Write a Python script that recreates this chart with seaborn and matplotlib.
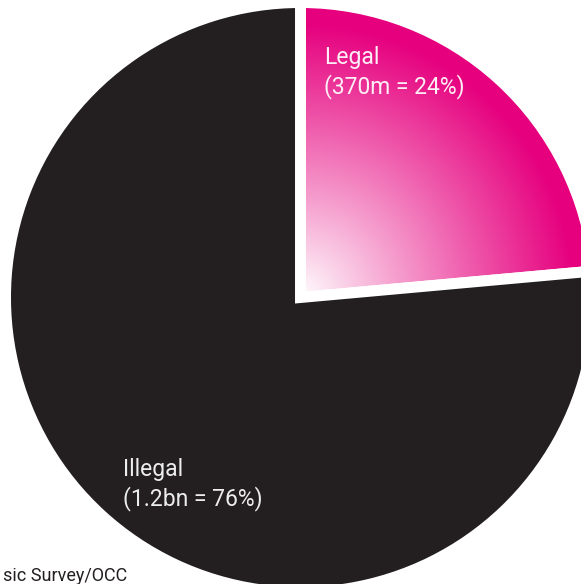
import numpy as np
import matplotlib
matplotlib.use("Agg")
import matplotlib.pyplot as plt
import seaborn as sns

# ---- data ----
categories = ["Legal", "Illegal"]
values = [370, 1200]            # millions
value_labels = ["(370m = 24%)", "(1.2bn = 76%)"]
source_text = "sic Survey/OCC"

# ---- style ----
sns.set_theme(style="white")
plt.rcParams["font.family"] = ["Roboto", "DejaVu Sans"]

MAGENTA = np.array([230, 0, 126]) / 255.0
DARK = "#231F20"

W, H = 581, 584
fig = plt.figure(figsize=(W / 100, H / 100), dpi=100)
ax = fig.add_axes([0, 0, 1, 1])

cx, cy, R = 300.5, 297.5, 295.0   # layout in pixel units
wedges, _ = ax.pie(values, radius=R, startangle=90, counterclock=False,
                   colors=["none", DARK],
                   wedgeprops=dict(edgecolor="white", linewidth=7.9, joinstyle="miter"))
for w in wedges:
    w.set_zorder(3)

x0, x1 = -cx, W - cx
y0, y1 = cy - H, cy
ax.set_xlim(x0, x1)
ax.set_ylim(y0, y1)
ax.set_aspect("equal")
ax.axis("off")

# radial gradient for the legal wedge
xs = np.linspace(x0, x1, W)
ys = np.linspace(y1, y0, H)
XX, YY = np.meshgrid(xs, ys)
rr = np.sqrt(XX ** 2 + YY ** 2) / R
t = np.clip(rr / 0.93, 0, 1) ** 0.95
img = (1 - t)[..., None] * np.ones(3) + t[..., None] * MAGENTA
im = ax.imshow(img, extent=(x0, x1, y0, y1), origin="upper", zorder=1,
               interpolation="bilinear")
im.set_clip_path(wedges[0])

# labels
fs = 16.5
kw = dict(fontsize=fs, ha="left", va="baseline", zorder=5, fontweight="normal")
ax.text(324.3 - cx, cy - 64, categories[0], color="#FDEEF5", **kw)
ax.text(324.3 - cx, cy - 93, value_labels[0], color="#FDEEF5", **kw)
ax.text(122.7 - cx, cy - 476, categories[1], color="#EDEDED", **kw)
ax.text(122.7 - cx, cy - 505.5, value_labels[1], color="#EDEDED", **kw)

fig.text(3 / W, 1 - 581 / H, source_text, color=DARK, fontsize=13,
         ha="left", va="baseline", fontweight="normal")

fig.savefig("out.png", dpi=100, facecolor="white")
